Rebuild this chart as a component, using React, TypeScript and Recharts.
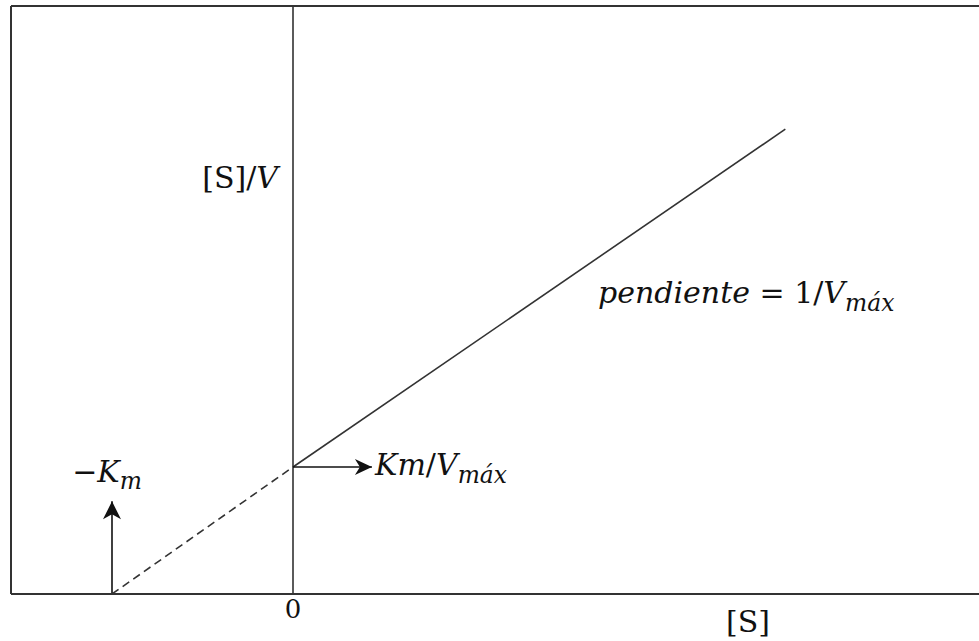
import React from "react";
import {
  ComposedChart,
  Line,
  XAxis,
  YAxis,
  ReferenceLine,
  ReferenceDot,
} from "recharts";

// Hanes–Woolf plot: [S]/V against [S]
const INK = "#333333";
const MATH_FONT = "'DejaVu Serif', 'Liberation Serif', serif";
const FONT_SIZE = 30;

// axis ranges (x in units of Km, y in units of Km/Vmax)
const sDomain = [-1.558, 3.79];
const vDomain = [0, 4.63];
const sTicks = [0];

// extrapolated part of the line, from -Km up to the intercept
const extrapS = [-1, 0];
const extrapV = [0, 1];

// measured part of the line
const fitS = [0, 2.72];
const fitV = [1, 3.66];

// arrow pointing up at -Km
const kmArrowS = [-1, -1];
const kmArrowV = [0, 0.73];

// arrow pointing right from the intercept Km/Vmax
const icptArrowS = [0, 0.436];
const icptArrowV = [1, 1];

const zip = (xs: number[], ys: number[]) => xs.map((s, i) => ({ s, v: ys[i] }));

const arrowUp = (props: any) => {
  const { cx, cy, index } = props;
  if (index !== 1) return <g key={`u${index}`} />;
  return (
    <path
      key={`u${index}`}
      d={`M${cx},${cy} L${cx - 9},${cy + 18} L${cx},${cy + 13} L${cx + 9},${cy + 18} Z`}
      fill="#111"
      stroke="none"
    />
  );
};

const arrowRight = (props: any) => {
  const { cx, cy, index } = props;
  if (index !== 1) return <g key={`r${index}`} />;
  return (
    <path
      key={`r${index}`}
      d={`M${cx},${cy} L${cx - 17},${cy - 8} L${cx - 12},${cy} L${cx - 17},${cy + 8} Z`}
      fill="#111"
      stroke="none"
    />
  );
};

const textProps = {
  fontFamily: MATH_FONT,
  fontSize: FONT_SIZE,
  fill: "#111",
};

const sub = (t: string) => (
  <tspan fontSize={FONT_SIZE * 0.78} fontStyle="italic" dy={FONT_SIZE * 0.25}>
    {t}
  </tspan>
);

const labelAt =
  (anchor: "start" | "middle" | "end", body: React.ReactNode) => (props: any) => {
    const vb = props.viewBox || {};
    return (
      <text x={vb.x} y={vb.y} textAnchor={anchor} {...textProps}>
        {body}
      </text>
    );
  };

const yTitle = labelAt(
  "end",
  <>
    <tspan>[S]/</tspan>
    <tspan fontStyle="italic">V</tspan>
  </>
);

const xTitle = labelAt("middle", <tspan>[S]</tspan>);

const slopeText = labelAt(
  "start",
  <>
    <tspan fontStyle="italic">pendiente</tspan>
    <tspan> = 1/</tspan>
    <tspan fontStyle="italic">V</tspan>
    {sub("máx")}
  </>
);

const interceptText = labelAt(
  "start",
  <>
    <tspan fontStyle="italic">Km</tspan>
    <tspan>/</tspan>
    <tspan fontStyle="italic">V</tspan>
    {sub("máx")}
  </>
);

const kmText = labelAt(
  "start",
  <>
    <tspan>−</tspan>
    <tspan fontStyle="italic">K</tspan>
    {sub("m")}
  </>
);

export default function App() {
  return (
    <div style={{ position: "absolute", left: 0, top: 0, background: "#fff" }}>
      <ComposedChart
        width={979}
        height={641}
        margin={{ top: 6, right: 0, bottom: 0, left: 11 }}
      >
        <XAxis
          type="number"
          dataKey="s"
          domain={sDomain}
          ticks={sTicks}
          allowDataOverflow
          height={47}
          tickLine={false}
          tickSize={0}
          tickMargin={6}
          axisLine={{ stroke: INK, strokeWidth: 2 }}
          tick={{ ...textProps, fontSize: 26, fill: "#111" }}
        />
        <YAxis type="number" dataKey="v" domain={vDomain} allowDataOverflow hide />

        <ReferenceLine x={sDomain[0]} stroke={INK} strokeWidth={2} />
        <ReferenceLine y={vDomain[1]} stroke={INK} strokeWidth={2} />
        <ReferenceLine x={0} stroke={INK} strokeWidth={1.6} />

        <Line
          data={zip(extrapS, extrapV)}
          dataKey="v"
          type="linear"
          stroke={INK}
          strokeWidth={1.6}
          strokeDasharray="8 5"
          dot={false}
          isAnimationActive={false}
        />
        <Line
          data={zip(fitS, fitV)}
          dataKey="v"
          type="linear"
          stroke={INK}
          strokeWidth={1.6}
          dot={false}
          isAnimationActive={false}
        />
        <Line
          data={zip(kmArrowS, kmArrowV)}
          dataKey="v"
          type="linear"
          stroke="#111"
          strokeWidth={1.6}
          dot={arrowUp}
          activeDot={false}
          isAnimationActive={false}
        />
        <Line
          data={zip(icptArrowS, icptArrowV)}
          dataKey="v"
          type="linear"
          stroke="#111"
          strokeWidth={1.6}
          dot={arrowRight}
          activeDot={false}
          isAnimationActive={false}
        />

        <ReferenceDot x={-0.083} y={3.197} r={0} ifOverflow="visible" label={yTitle} />
        <ReferenceDot x={2.514} y={-0.299} r={0} ifOverflow="visible" label={xTitle} />
        <ReferenceDot x={1.685} y={2.291} r={0} ifOverflow="visible" label={slopeText} />
        <ReferenceDot x={0.453} y={0.937} r={0} ifOverflow="visible" label={interceptText} />
        <ReferenceDot x={-1.22} y={0.882} r={0} ifOverflow="visible" label={kmText} />
      </ComposedChart>
    </div>
  );
}
